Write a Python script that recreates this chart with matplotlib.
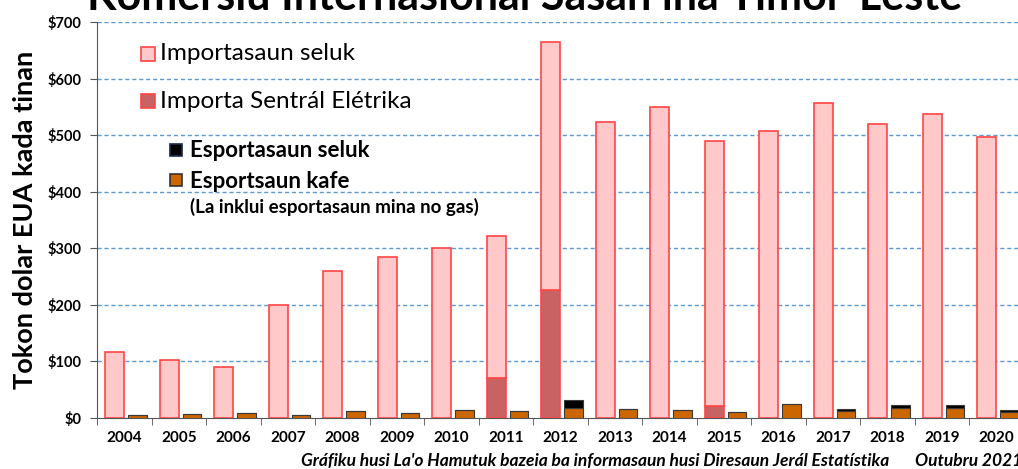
import numpy as np
import matplotlib
matplotlib.use('Agg')
import matplotlib.pyplot as plt
from matplotlib.patches import Rectangle

plt.rcParams['font.family'] = ['Lato', 'DejaVu Sans']

# Data (millions of USD per year)
years = ['2004', '2005', '2006', '2007', '2008', '2009', '2010', '2011', '2012',
         '2013', '2014', '2015', '2016', '2017', '2018', '2019', '2020']
total_imports = [117, 103, 90, 200, 260, 285, 301, 321, 665,
                 524, 550, 489, 508, 556, 520, 537, 497]
power_imports = [0, 0, 0, 0, 0, 0, 0, 70, 227,
                 0, 0, 22, 0, 0, 0, 0, 0]
coffee_exports = [6, 7, 8, 6, 12, 8, 15, 13, 18,
                  16, 14, 10, 24, 13, 18, 18, 11]
other_exports = [0, 0, 0, 0, 0, 0, 0, 0, 13,
                 0.5, 0.5, 0.5, 0.5, 3, 5, 5, 3]

other_imports = [t - p for t, p in zip(total_imports, power_imports)]

fig = plt.figure(figsize=(10.18, 4.69), dpi=100)
ax = fig.add_axes([97 / 1018, 1 - 418 / 469, 17 * 54.5 / 1018, 396 / 469])

x = np.arange(len(years))
pink = '#FFC9C9'
red = '#FF4545'
power_col = '#C96363'
orange = '#CC6600'

ax.bar(x - 0.178, power_imports, width=0.35, color=power_col, edgecolor=red, linewidth=1.2, zorder=3)
ax.bar(x - 0.178, other_imports, width=0.35, bottom=power_imports, color=pink,
       edgecolor=red, linewidth=1.2, zorder=3)
ax.bar(x + 0.245, coffee_exports, width=0.34, color=orange, edgecolor='#3a3a3a', linewidth=0.8, zorder=3)
ax.bar(x + 0.245, other_exports, width=0.34, bottom=coffee_exports, color='black',
       edgecolor='#3a3a3a', linewidth=0.8, zorder=3)

ax.set_xlim(-0.5, 16.5)
ax.set_ylim(0, 700)
ax.set_yticks(range(0, 701, 100))
ax.set_yticklabels(['$%d' % v for v in range(0, 701, 100)], fontsize=10.5, fontweight='bold')
for v in range(100, 701, 100):
    ax.axhline(v, color='#5B9BD5', linestyle=(0, (3, 2)), linewidth=1.0, zorder=1)

ax.set_xticks(x)
ax.set_xticklabels(years, fontsize=11, fontweight='bold')
ax.set_xticks(np.arange(-0.5, 17, 1), minor=True)
ax.tick_params(axis='x', which='major', length=0, pad=9)
ax.tick_params(axis='x', which='minor', length=5, color='#555555')
ax.tick_params(axis='y', length=5, color='#555555', pad=6)

for s in ['top', 'right']:
    ax.spines[s].set_visible(False)
ax.spines['left'].set_color('#555555')
ax.spines['bottom'].set_color('#555555')

ax.set_ylabel('Tokon dolar EUA kada tinan', fontsize=19.5, fontweight='bold', labelpad=8)

# title (cut off at the top, as in the source)
fig.text(0.515, 1 - 10 / 469, 'Komersiu Internasionál Sasán iha Timor-Leste',
         ha='center', va='baseline', fontsize=31, fontweight='bold')

# hand-made legend
def legend_box(x0, y0, w, h, fc, ec):
    fig.patches.append(Rectangle((x0 / 1018, 1 - (y0 + h) / 469), w / 1018, h / 469,
                                 transform=fig.transFigure, facecolor=fc, edgecolor=ec,
                                 linewidth=1.2))

legend_box(141, 47, 14, 14, pink, red)
fig.text(160 / 1018, 1 - 54 / 469, 'Importasaun seluk', fontsize=17.5, va='center')
legend_box(141, 94, 14, 14, power_col, red)
fig.text(160 / 1018, 1 - 101 / 469, 'Importa Sentrál Elétrika', fontsize=17.5, va='center')
legend_box(170, 144, 12, 12, 'black', '#1a2a4a')
fig.text(190 / 1018, 1 - 150 / 469, 'Esportasaun seluk', fontsize=16, fontweight='bold', va='center')
legend_box(170, 174, 12, 12, orange, '#333333')
fig.text(190 / 1018, 1 - 181 / 469, 'Esportsaun kafe', fontsize=16, fontweight='bold', va='center')
fig.text(190 / 1018, 1 - 207 / 469, '(La inklui esportasaun mina no gas)', fontsize=13.5,
         fontweight='bold', va='center')

fig.text(595 / 1018, 1 - 461 / 469,
         "Gráfiku husi La'o Hamutuk bazeia ba informasaun husi Diresaun Jerál Estatístika",
         ha='center', va='center', fontsize=12.5, fontweight='bold', style='italic')
fig.text(1022 / 1018, 1 - 461 / 469, 'Outubru 2021', ha='right', va='center',
         fontsize=12.5, fontweight='bold', style='italic')

fig.savefig('out.png', dpi=100)
